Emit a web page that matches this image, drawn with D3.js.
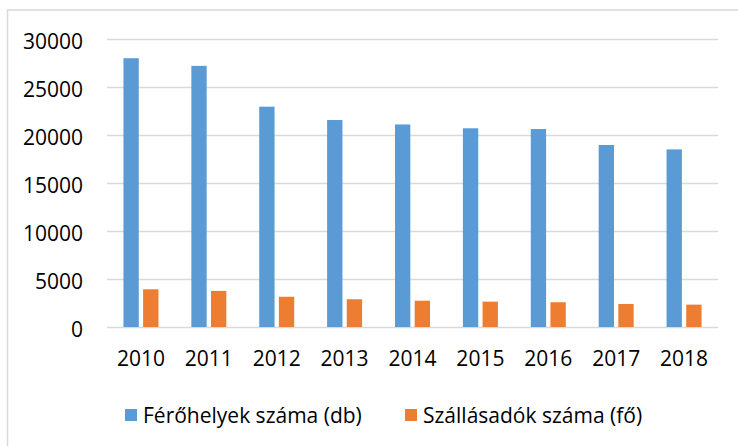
<!DOCTYPE html>
<html>
<head>
<meta charset="utf-8">
<script src="https://cdn.jsdelivr.net/npm/d3@7"></script>
<style>
  body { margin: 0; background: #fff; }
  svg text { font-family: "Open Sans", Lato, sans-serif; fill: #000; }
</style>
</head>
<body>
<div id="chart"></div>
<script>
// Data
var years = ["2010", "2011", "2012", "2013", "2014", "2015", "2016", "2017", "2018"];
var ferohelyek = [28000, 27200, 22950, 21560, 21100, 20700, 20620, 18960, 18500];
var szallasadok = [3930, 3760, 3150, 2890, 2740, 2640, 2580, 2400, 2330];
var seriesNames = ["Férőhelyek száma (db)", "Szállásadók száma (fő)"];
var seriesColors = ["#5B9BD5", "#ED7D31"];
var yTicks = [0, 5000, 10000, 15000, 20000, 25000, 30000];

var W = 738, H = 446;
var margin = {top: 39, right: 20, bottom: 119, left: 107},
    width = W - margin.left - margin.right,
    height = H - margin.top - margin.bottom;

var fontSize = "21px";

var svg = d3.select("#chart").append("svg")
    .attr("width", W)
    .attr("height", H);

// outer chart border (only the top/left are visible in the frame)
svg.append("rect")
    .attr("x", 7.5).attr("y", 10)
    .attr("width", W + 10).attr("height", H + 10)
    .attr("fill", "none")
    .attr("stroke", "#d9d9d9")
    .attr("stroke-width", 1.5);

var g = svg.append("g")
    .attr("transform", "translate(" + margin.left + "," + margin.top + ")");

var x0 = d3.scaleBand().domain(years).range([0, width]).padding(0);
var groupW = 35;
var x1 = d3.scaleBand().domain([0, 1]).range([0, groupW]).paddingInner(0.22);
var y = d3.scaleLinear().domain([0, 30000]).range([height, 0]);

// grid lines
g.append("g")
    .attr("class", "grid")
    .call(d3.axisLeft(y).tickValues(yTicks).tickSize(-width).tickFormat(""))
    .call(s => s.select(".domain").remove())
    .selectAll("line")
    .attr("stroke", "#d9d9d9")
    .attr("stroke-width", 1.5);

// y tick labels
g.append("g")
    .call(d3.axisLeft(y).tickValues(yTicks).tickSize(0).tickPadding(24).tickFormat(d3.format("d")))
    .call(s => s.select(".domain").remove())
    .selectAll("text")
    .attr("font-size", fontSize)
    .attr("dy", "0.43em");

// bars
var data = years.map((yr, i) => ({year: yr, vals: [ferohelyek[i], szallasadok[i]]}));

var groups = g.selectAll(".grp")
    .data(data)
    .enter().append("g")
    .attr("class", "grp")
    .attr("transform", d => "translate(" + (x0(d.year) + (x0.bandwidth() - groupW) / 2) + ",0)");

groups.selectAll("rect")
    .data(d => d.vals.map((v, k) => ({k: k, v: v})))
    .enter().append("rect")
    .attr("x", d => x1(d.k))
    .attr("width", x1.bandwidth())
    .attr("y", d => y(d.v))
    .attr("height", d => height - y(d.v))
    .attr("fill", d => seriesColors[d.k]);

// x axis labels
g.append("g")
    .attr("transform", "translate(0," + height + ")")
    .call(d3.axisBottom(x0).tickSize(0).tickPadding(24))
    .call(s => s.select(".domain").remove())
    .selectAll("text")
    .attr("font-size", fontSize);

// legend
var legendX = [125, 405];
var legend = svg.append("g").attr("class", "legend");

legend.selectAll("rect")
    .data(seriesNames)
    .enter().append("rect")
    .attr("x", (d, i) => legendX[i])
    .attr("y", 409)
    .attr("width", 12)
    .attr("height", 12)
    .attr("fill", (d, i) => seriesColors[i]);

legend.selectAll("text")
    .data(seriesNames)
    .enter().append("text")
    .attr("x", (d, i) => legendX[i] + 18)
    .attr("y", 415)
    .attr("dy", "0.36em")
    .attr("font-size", fontSize)
    .text(d => d);
</script>
</body>
</html>
